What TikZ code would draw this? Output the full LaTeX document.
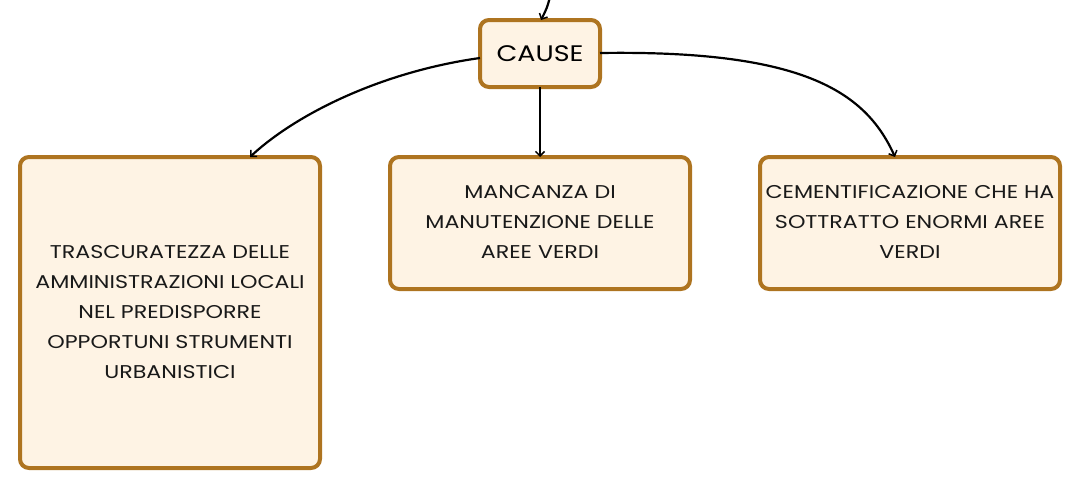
\documentclass[tikz,border=0pt]{standalone}
\usepackage{fontspec}
\setmainfont{Poppins}[FakeStretch=1.2]
\usetikzlibrary{arrows.meta}
\definecolor{bord}{HTML}{AE7420}
\definecolor{boxfill}{HTML}{FEF3E4}
\begin{document}
\begin{tikzpicture}[x=1pt,y=-1pt,
  cbox/.style={draw=bord,line width=4pt,fill=boxfill,rounded corners=9pt,inner sep=0pt,outer sep=0pt},
  btxt/.style={align=center,font=\fontsize{18.5pt}{30pt}\selectfont,text=black!90},
  conn/.style={draw=black,line width=2.2pt,-{Straight Barb[length=4.5pt,width=9pt,line width=1.5pt]}}]
\useasboundingbox (0,0) rectangle (1080,490);
\node[cbox,minimum width=120pt,minimum height=67pt,font=\fontsize{22.5pt}{30pt}\selectfont] (cause) at (540,53.5) {CAUSE};
\node[cbox,minimum width=300pt,minimum height=311pt] (l) at (170,312.5) {};
\node[btxt] at (170,312) {TRASCURATEZZA DELLE\\AMMINISTRAZIONI LOCALI\\NEL PREDISPORRE\\OPPORTUNI STRUMENTI\\URBANISTICI};
\node[cbox,minimum width=300pt,minimum height=132pt] (m) at (540,223) {};
\node[btxt] at (540,222) {MANCANZA DI\\MANUTENZIONE DELLE\\AREE VERDI};
\node[cbox,minimum width=300pt,minimum height=132pt] (r) at (910,223) {};
\node[btxt] at (910,222) {CEMENTIFICAZIONE CHE HA\\SOTTRATTO ENORMI AREE\\VERDI};
\coordinate (top) at (550,-3);
\draw[conn] (top) .. controls (547,8) .. (cause.north -| 541,0);
\draw[conn] (cause.west |- 0,58) .. controls (380,72) and (295,115) .. (l.north -| 250,0);
\draw[conn] (cause.south) -- (m.north);
\draw[conn] (cause.east |- 0,53) .. controls (800,50) and (865,90) .. (r.north -| 895,0);
\end{tikzpicture}
\end{document}
